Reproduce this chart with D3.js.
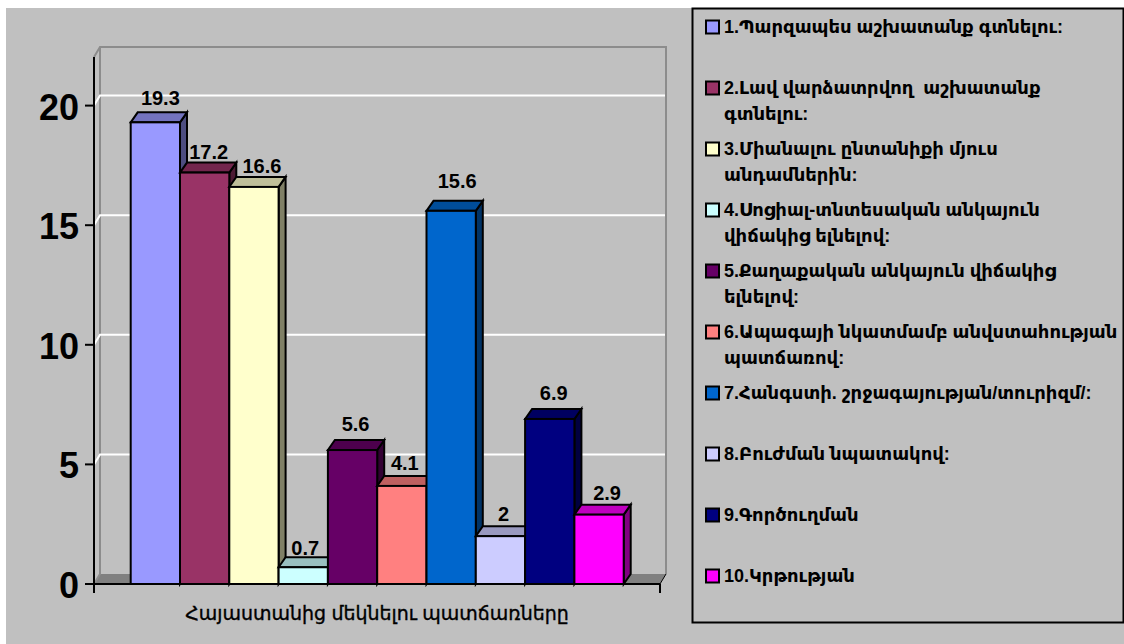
<!DOCTYPE html>
<html><head><meta charset="utf-8">
<script src="https://cdn.jsdelivr.net/npm/d3@7"></script>
<style>html,body{margin:0;padding:0;background:#fff}svg{display:block}
text{font-family:"Liberation Sans","DejaVu Sans",sans-serif;fill:#000}</style>
</head><body><svg id="c" width="1124" height="644"></svg>
<script>
const categories = ["1","2","3","4","5","6","7","8","9","10"];
const values = [19.3,17.2,16.6,0.7,5.6,4.1,15.6,2,6.9,2.9];
const valueLabels = ["19.3","17.2","16.6","0.7","5.6","4.1","15.6","2","6.9","2.9"];
const colors = ["#9999FF","#993366","#FFFFCC","#CCFFFF","#660066","#FF8080","#0066CC","#CCCCFF","#000080","#FF00FF"];
const yTicks = [0,5,10,15,20];
const legendLines = [
 ["1.Պարզապես աշխատանք գտնելու:"],
 ["2.Լավ վարձատրվող  աշխատանք","գտնելու:"],
 ["3.Միանալու ընտանիքի մյուս","անդամներին:"],
 ["4.Սոցիալ-տնտեսական անկայուն","վիճակից ելնելով:"],
 ["5.Քաղաքական անկայուն վիճակից","ելնելով:"],
 ["6.Ապագայի նկատմամբ անվստահության","պատճառով:"],
 ["7.Հանգստի. շրջագայության/տուրիզմ/:"],
 ["8.Բուժման նպատակով:"],
 ["9.Գործուղման"],
 ["10.Կրթության"]];
const xTitle = "Հայաստանից մեկնելու պատճառները";

// layout
const svg = d3.select("#c");
const leftX=94,rightX=660,base=584,topY=57,dx=6,dy=10,bdx=7,bdy=10;
const labelLift=[7,4,4,2,9,6,13,5,9,5], labelShift=[5,4,8,2,3,3,6,3,4,8];
const y=d3.scaleLinear().domain([0,22]).range([base,base-22*23.92]);
const x=d3.scaleBand().domain(categories).range([130.7,623.7]).padding(0);
const poly=p=>p.map(a=>a.join(",")).join(" ");

svg.append("rect").attr("x",6).attr("y",8).attr("width",1118).attr("height",636).attr("fill","#C0C0C0");

// walls
svg.append("polygon").attr("points",poly([[leftX,base],[leftX+dx,base-dy],[rightX+dx,base-dy],[rightX,base]])).attr("fill","#808080");
svg.append("path").attr("d",`M${leftX},${topY}L${leftX+dx},${topY-dy}H${rightX+dx}V${base-dy}M${leftX+dx},${topY-dy}V${base-dy}L${leftX},${base}`)
  .attr("fill","none").attr("stroke","#8C8C8C").attr("stroke-width",2);
// grid
svg.append("g").selectAll("path").data(yTicks.filter(d=>d>0)).join("path")
  .attr("d",d=>`M${leftX},${y(d)}L${leftX+dx},${y(d)-dy}H${rightX+dx-1}`)
  .attr("fill","none").attr("stroke","#fff").attr("stroke-width",2);

// bars
const bars=svg.append("g").attr("stroke","#000").attr("stroke-width",2).attr("stroke-linejoin","miter");
categories.forEach((c,i)=>{
  const x0=x(c),x1=x0+x.bandwidth(),yt=y(values[i]),col=d3.color(colors[i]);
  const g=bars.append("g");
  const shade=k=>d3.rgb(col.r*k,col.g*k,col.b*k).formatHex();
  g.append("polygon").attr("points",poly([[x1,yt],[x1+bdx,yt-bdy],[x1+bdx,base-bdy],[x1,base]])).attr("fill",shade(.5));
  g.append("polygon").attr("points",poly([[x0,yt],[x0+bdx,yt-bdy],[x1+bdx,yt-bdy],[x1,yt]])).attr("fill",shade(.75));
  g.append("rect").attr("x",x0).attr("y",yt).attr("width",x.bandwidth()).attr("height",base-yt).attr("fill",colors[i]);
});

// labels
svg.append("g").selectAll("text").data(categories).join("text")
  .attr("x",(c,i)=>x(c)+x.bandwidth()/2+labelShift[i])
  .attr("y",(c,i)=>y(values[i])-bdy-labelLift[i])
  .attr("text-anchor","middle").attr("font-size",20).attr("font-weight","bold")
  .text((c,i)=>valueLabels[i]);

// axes
const ax=svg.append("g").attr("stroke","#000").attr("stroke-width",2);
ax.append("line").attr("x1",leftX).attr("x2",leftX).attr("y1",topY).attr("y2",593);
ax.append("line").attr("x1",leftX-9).attr("x2",rightX).attr("y1",base).attr("y2",base);
ax.append("line").attr("x1",rightX).attr("x2",rightX).attr("y1",base).attr("y2",593);
ax.append("line").attr("x1",rightX).attr("x2",rightX+dx).attr("y1",base).attr("y2",base-dy).attr("stroke-width",1);
ax.selectAll(".t").data(yTicks).join("line").attr("class","t").attr("x1",leftX-9).attr("x2",leftX).attr("y1",d=>y(d)).attr("y2",d=>y(d));
svg.append("g").selectAll("text").data(yTicks).join("text")
  .attr("x",79).attr("y",d=>y(d)+14).attr("text-anchor","end").attr("font-size",36).attr("font-weight","bold").text(d=>d);

svg.append("text").attr("x",377).attr("y",620).attr("text-anchor","middle").attr("font-size",19)
  .attr("stroke","#000").attr("stroke-width",0.35).text(xTitle);

// legend
svg.append("rect").attr("x",692.5).attr("y",8.5).attr("width",431).attr("height",614).attr("fill","#C0C0C0").attr("stroke","#000").attr("stroke-width",2);
const ly=d3.scalePoint().domain(categories).range([27,576]);
const lg=svg.append("g").selectAll("g").data(categories).join("g").attr("transform",c=>`translate(0,${ly(c)})`);
lg.append("rect").attr("x",706).attr("y",-6.5).attr("width",13).attr("height",13).attr("fill",(c,i)=>colors[i]).attr("stroke","#000").attr("stroke-width",2);
lg.each(function(c,i){
  d3.select(this).selectAll("text").data(legendLines[i]).join("text")
    .attr("x",724).attr("y",(d,j)=>6+j*26).attr("font-size",18).attr("font-weight","bold").style("white-space","pre").text(d=>d);
});
</script></body></html>
